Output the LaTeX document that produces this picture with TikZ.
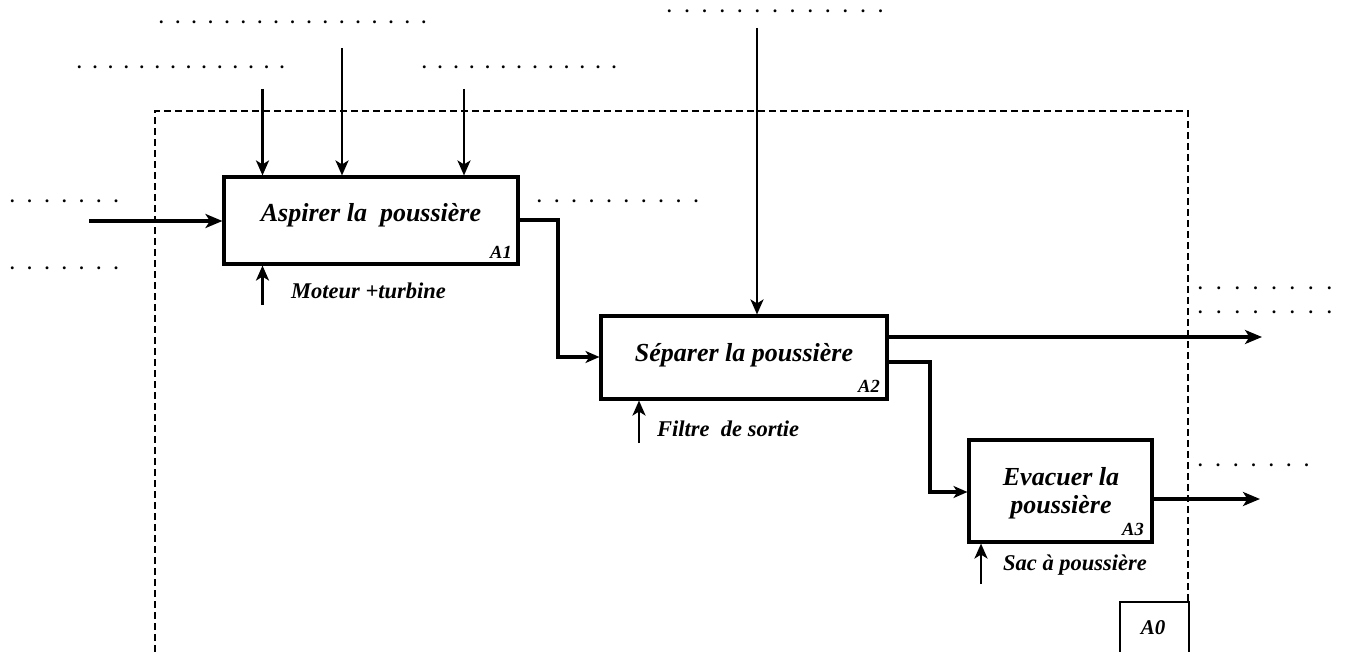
\documentclass[tikz,border=0pt]{standalone}
\usepackage{fontspec}
\setmainfont{Liberation Serif}
\usetikzlibrary{arrows.meta}
\newcommand\dotrow[2]{\foreach \i in {1,...,#1}{\makebox[#2][l]{.}}}
\tikzset{
  procbox/.style={draw, line width=3.1pt, inner sep=0pt, align=center,
    font=\fontsize{26}{28}\selectfont\bfseries\itshape},
  tag/.style={font=\fontsize{18.5}{20}\selectfont\bfseries\itshape, inner sep=0pt},
  mech/.style={font=\fontsize{22.5}{25}\selectfont\bfseries\itshape, inner sep=0pt, anchor=west},
  thinar/.style={line width=2.5pt, -{Stealth[length=15pt,width=13pt,inset=4pt]}},
  thickar/.style={line width=4.2pt, -{Stealth[length=17pt,width=14pt,inset=4.5pt]}},
  flow/.style={line width=4.2pt},
  frame/.style={line width=1.6pt, dash pattern=on 7pt off 4pt},
  dotsrow/.style={anchor=base west, inner sep=0pt, font=\fontsize{18}{20}\selectfont\bfseries},
}
\begin{document}
\begin{tikzpicture}[x=1pt,y=-1pt]
\useasboundingbox (0,0) rectangle (1350,652);
% frame
\draw[frame] (155,652) -- (155,111) -- (1188,111) -- (1188,601);
\node[draw, line width=2pt, minimum width=69pt, minimum height=60pt, inner sep=0pt, anchor=north west] (A0) at (1119,601) {};
\node[tag, font=\fontsize{21}{23}\selectfont\bfseries\itshape] (A0t) at (1153,628) {A0};
% boxes
\node[procbox, minimum width=294pt, minimum height=87pt] (A1) at (371,220.5) {};
\node[procbox, draw=none] (A1t) at (371,215) {Aspirer la~ poussière};
\node[tag, anchor=south east] (A1n) at (512,259) {A1};
\node[procbox, minimum width=286pt, minimum height=83pt] (A2) at (744,357.5) {};
\node[procbox, draw=none] (A2t) at (744,355) {Séparer la poussière};
\node[tag, anchor=south east] (A2n) at (880,393) {A2};
\node[procbox, minimum width=183pt, minimum height=102pt] (A3) at (1060.5,491) {};
\node[procbox, draw=none] (A3t) at (1061,493) {Evacuer la\\poussière};
\node[tag, anchor=south east] (A3n) at (1144,536) {A3};
% mechanisms
\coordinate (m1) at (262.5,305);
\coordinate (m2) at (639,443);
\coordinate (m3) at (981,584);
\draw[thinar] (m1) -- (m1 |- A1.south);
\draw[thinar] (m2) -- (m2 |- A2.south);
\draw[thinar] (m3) -- (m3 |- A3.south);
\node[mech] (m1t) at (291,291) {Moteur +turbine};
\node[mech] (m2t) at (657,429) {Filtre~ de sortie};
\node[mech] (m3t) at (1003,565) {Sac à poussière};
% controls
\coordinate (c1) at (262.5,89);
\coordinate (c2) at (342,48);
\coordinate (c3) at (464,89);
\coordinate (c4) at (757,28);
\draw[thinar] (c1) -- (c1 |- A1.north);
\draw[thinar] (c2) -- (c2 |- A1.north);
\draw[thinar] (c3) -- (c3 |- A1.north);
\draw[thinar] (c4) -- (c4 |- A2.north);
% input
\coordinate (in1) at (89,221);
\draw[thickar] (in1) -- (A1.west |- in1);
% flows
\draw[flow, -{Stealth[length=14pt,width=12pt,inset=4pt]}] (A1.east |- 0,220) -- (558,220) -- (558,357) -- (A2.west |- 0,357);
\draw[flow, -{Stealth[length=14pt,width=12pt,inset=4pt]}] (A2.east |- 0,362) -- (930,362) -- (930,492) -- (A3.west |- 0,492);
\coordinate (o1) at (1262,337);
\coordinate (o2) at (1260,499);
\draw[thickar] (A2.east |- o1) -- (o1);
\draw[thickar] (A3.east |- o2) -- (o2);
% dotted placeholders
\node[dotsrow] (d1) at (159,24) {\dotrow{17}{16.4pt}};
\node[dotsrow] (d2) at (77,69) {\dotrow{14}{15.6pt}};
\node[dotsrow] (d3) at (422,69) {\dotrow{13}{15.8pt}};
\node[dotsrow] (d4) at (667,13) {\dotrow{13}{17.6pt}};
\node[dotsrow] (d5) at (10,203) {\dotrow{7}{17.3pt}};
\node[dotsrow] (d6) at (10,270) {\dotrow{7}{17.3pt}};
\node[dotsrow] (d7) at (537,203) {\dotrow{10}{17.4pt}};
\node[dotsrow] (d8) at (1198,290) {\dotrow{8}{18.4pt}};
\node[dotsrow] (d9) at (1198,314) {\dotrow{8}{18.4pt}};
\node[dotsrow] (d10) at (1198,466) {\dotrow{7}{17.7pt}};
\end{tikzpicture}
\end{document}
